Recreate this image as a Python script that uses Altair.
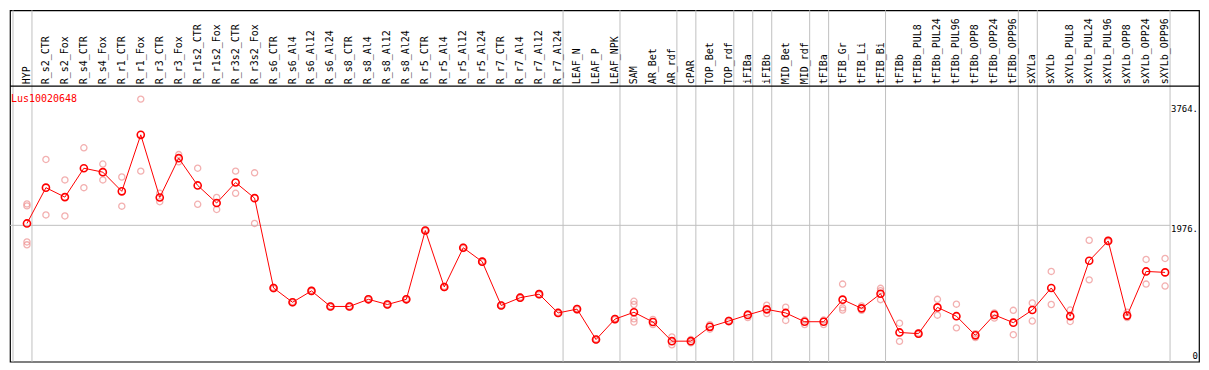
import altair as alt
import pandas as pd

title_text = "Lus10020648"

categories = ["HYP", "R_s2_CTR", "R_s2_Fox", "R_s4_CTR", "R_s4_Fox", "R_r1_CTR", "R_r1_Fox",
              "R_r3_CTR", "R_r3_Fox", "R_r1s2_CTR", "R_r1s2_Fox", "R_r3s2_CTR", "R_r3s2_Fox",
              "R_s6_CTR", "R_s6_Al4", "R_s6_Al12", "R_s6_Al24", "R_s8_CTR", "R_s8_Al4", "R_s8_Al12",
              "R_s8_Al24", "R_r5_CTR", "R_r5_Al4", "R_r5_Al12", "R_r5_Al24", "R_r7_CTR", "R_r7_Al4",
              "R_r7_Al12", "R_r7_Al24", "LEAF_N", "LEAF_P", "LEAF_NPK", "SAM", "AR_Bet", "AR_rdf",
              "cPAR", "TOP_Bet", "TOP_rdf", "iFIBa", "iFIBb", "MID_Bet", "MID_rdf", "tFIBa",
              "tFIB_Gr", "tFIB_Li", "tFIB_Bi", "tFIBb", "tFIBb_PUL8", "tFIBb_PUL24", "tFIBb_PUL96",
              "tFIBb_OPP8", "tFIBb_OPP24", "tFIBb_OPP96", "sXYLa", "sXYLb", "sXYLb_PUL8",
              "sXYLb_PUL24", "sXYLb_PUL96", "sXYLb_OPP8", "sXYLb_OPP24", "sXYLb_OPP96"]

means = [2004, 2534, 2394, 2822, 2764, 2480, 3317, 2389, 2971, 2567, 2307, 2610, 2379,
         1048, 836, 1005, 774, 774, 880, 803, 880,
         1899, 1063, 1644, 1438, 789, 904, 956, 678,
         735, 284, 587,
         688, 544, 260, 260,
         472, 558, 649, 731,
         678, 548, 548, 875, 746, 962,
         389, 371, 760, 630, 346, 649, 534,
         721, 1048, 630, 1452, 1745, 639, 1293, 1279]

replicates = [
    [2293, 2264, 1730, 1687], [2952, 2130], [2649, 2115], [3125, 2534], [2884, 2649],
    [2692, 2260], [2779, 3846], [2451, 2326], [3024, 2917], [2822, 2288], [2389, 2211],
    [2779, 2451], [2754, 2004],
    [1060, 1036], [846, 826], [1015, 995], [784, 764], [784, 764], [890, 870], [813, 793],
    [890, 870], [1909, 1889], [1073, 1053], [1654, 1634], [1448, 1428], [799, 779],
    [914, 894], [966, 946], [688, 668], [745, 725], [294, 274], [597, 577],
    [851, 803, 591, 544], [581, 505], [322, 206], [284, 235], [505, 437], [570, 545],
    [668, 610], [793, 668], [764, 567], [572, 505], [572, 505], [1106, 754, 721],
    [783, 717], [1043, 1009, 875], [526, 257], [381, 361], [880, 645], [808, 457],
    [371, 313], [678, 601], [717, 356], [826, 558], [1293, 803], [721, 552],
    [1755, 1168], [1755, 1735], [688, 610], [1471, 1106], [1485, 1077],
]

# group separators drawn after these column indices
separators_after = [-1, 0, 28, 31, 34, 35, 37, 38, 39, 41, 42, 45, 52, 53, 60]
axis_ticks = [0, 1976, 3764]
grid_values = [1976]

W, H = 1191, 352
x_scale = alt.Scale(domain=[-0.8947, 61.789], nice=False, zero=False)
y_scale = alt.Scale(domain=[-44.4, 5162], nice=False, zero=False)

idx = list(range(len(categories)))
df_mean = pd.DataFrame({"i": idx, "cat": categories, "v": means})
df_rep = pd.DataFrame([{"i": i, "v": v} for i, vals in enumerate(replicates) for v in vals])
df_sep = pd.DataFrame({"p": [k + 5 / 19 for k in separators_after]})
df_ticks = pd.DataFrame({"v": axis_ticks, "lab": [str(t) if t == 0 else f"{t}." for t in axis_ticks]})
df_grid = pd.DataFrame({"v": grid_values})
df_title = pd.DataFrame({"t": [title_text]})

X = lambda f: alt.X(f, type="quantitative", scale=x_scale, axis=None)
Y = lambda f: alt.Y(f, type="quantitative", scale=y_scale, axis=None)

sep = alt.Chart(df_sep).mark_rule(color="#c0c0c0", strokeWidth=1).encode(
    x=X("p"), y=alt.value(0), y2=alt.value(H))

grid = alt.Chart(df_grid).mark_rule(color="#c0c0c0", strokeWidth=1).encode(
    y=Y("v"), x=alt.value(0), x2=alt.value(1162))

header_line = alt.Chart(df_title).mark_rule(color="black", strokeWidth=1.2).encode(
    y=alt.value(76), x=alt.value(0), x2=alt.value(W))

labels = alt.Chart(df_mean).mark_text(
    angle=270, align="left", baseline="middle", font="DejaVu Sans Mono", fontSize=10,
    color="black").encode(x=X("i"), y=alt.value(74), text="cat:N")

title = alt.Chart(df_title).mark_text(
    align="left", baseline="middle", font="DejaVu Sans Mono", fontSize=10, color="red"
).encode(x=alt.value(1), y=alt.value(88.5), text="t:N")

tick_top = alt.Chart(df_ticks).transform_filter("datum.v > 0").mark_text(
    align="right", baseline="top", font="DejaVu Sans Mono", fontSize=9, color="black"
).encode(x=alt.value(1190), y=Y("v"), text="lab:N")

tick_zero = alt.Chart(df_ticks).transform_filter("datum.v == 0").mark_text(
    align="right", baseline="bottom", font="DejaVu Sans Mono", fontSize=9, color="black"
).encode(x=alt.value(1190), y=alt.value(H - 1), text="lab:N")

reps = alt.Chart(df_rep).mark_point(
    shape="circle", filled=False, color="#ee8f8f", size=38, strokeWidth=1.3
).encode(x=X("i"), y=Y("v"))

line = alt.Chart(df_mean).mark_line(color="red", strokeWidth=1).encode(x=X("i"), y=Y("v"))

pts = alt.Chart(df_mean).mark_point(
    shape="circle", filled=False, color="red", size=50, strokeWidth=1.6, opacity=1
).encode(x=X("i"), y=Y("v"))

chart = alt.layer(sep, grid, header_line, labels, title, tick_top, tick_zero, reps, line, pts).properties(
    width=W, height=H, padding={"left": 1, "top": 1, "right": 1, "bottom": 1}
).configure_view(stroke="black", strokeWidth=1.2)

chart.save("out.html", embed_options={"renderer": "svg", "actions": False})
